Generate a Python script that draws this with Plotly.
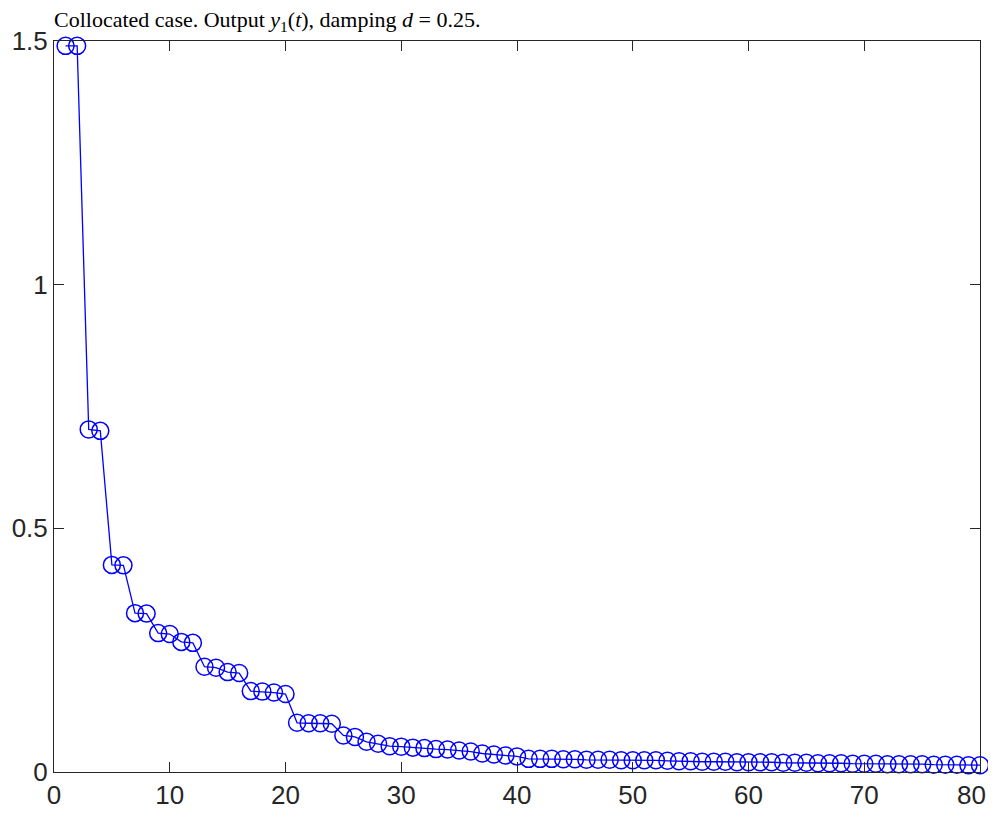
import plotly.graph_objects as go

steps = list(range(1, 81))
y1 = [
    1.490, 1.490, 0.703, 0.700, 0.425, 0.424, 0.326, 0.325, 0.285, 0.283,
    0.267, 0.265, 0.216, 0.214, 0.205, 0.203, 0.166, 0.165, 0.163, 0.160,
    0.101, 0.100, 0.100, 0.099, 0.075, 0.072, 0.062, 0.058, 0.053, 0.052,
    0.050, 0.049, 0.047, 0.046, 0.044, 0.042, 0.038, 0.036, 0.034, 0.032,
    0.027, 0.027, 0.027, 0.026, 0.026, 0.025, 0.025, 0.025, 0.024, 0.024,
    0.024, 0.024, 0.023, 0.022, 0.022, 0.021, 0.021, 0.021, 0.020, 0.020,
    0.020, 0.020, 0.019, 0.019, 0.019, 0.018, 0.018, 0.018, 0.017, 0.017,
    0.017, 0.016, 0.016, 0.016, 0.016, 0.015, 0.015, 0.015, 0.014, 0.014,
]

xticks = [0, 10, 20, 30, 40, 50, 60, 70, 80]
xtick_text = ["0", "10", "20", "30", "40", "50", "60", "70", ""]
yticks = [0, 0.5, 1, 1.5]
ytick_text = ["0", "0.5", "1", "1.5"]

tick_font = dict(family="Liberation Sans", size=26, color="#262626")

fig = go.Figure()
fig.add_trace(go.Scatter(
    x=steps, y=y1, mode="lines+markers",
    line=dict(color="#0000ff", width=1.3),
    marker=dict(symbol="circle-open", size=17, color="#0000ff", line=dict(width=1.5)),
    cliponaxis=False,
))

axis_style = dict(
    showgrid=False, zeroline=False, showline=True, linecolor="#262626", linewidth=1,
    mirror="ticks", ticks="inside", ticklen=10, tickcolor="#262626", tickwidth=1,
    tickfont=tick_font, automargin=False,
)

fig.update_xaxes(range=[0, 80], tickvals=xticks, ticktext=xtick_text, **axis_style)
fig.update_yaxes(range=[0, 1.5], tickvals=yticks, ticktext=ytick_text, **axis_style)

# last x label would run past the page edge, so pull it in a little
fig.add_annotation(
    x=xticks[-1], xref="x", y=0, yref="paper", text="80", showarrow=False,
    xanchor="center", yanchor="middle", xshift=-9, yshift=-23, font=tick_font,
)

# page body adds an 8px margin, so the figure is 16px smaller than the window
fig.update_layout(
    width=980, height=806,
    margin=dict(l=46, r=8, t=33, b=42),
    plot_bgcolor="white", paper_bgcolor="white",
    showlegend=False,
    title=dict(
        text="Collocated case. Output <i>y</i><sub>1</sub>(<i>t</i>), damping <i>d</i> = 0.25.",
        x=0.047, xanchor="left", y=0.986, yanchor="middle",
        font=dict(family="Liberation Serif", size=22, color="black"),
    ),
)

fig.write_html("out.html")
